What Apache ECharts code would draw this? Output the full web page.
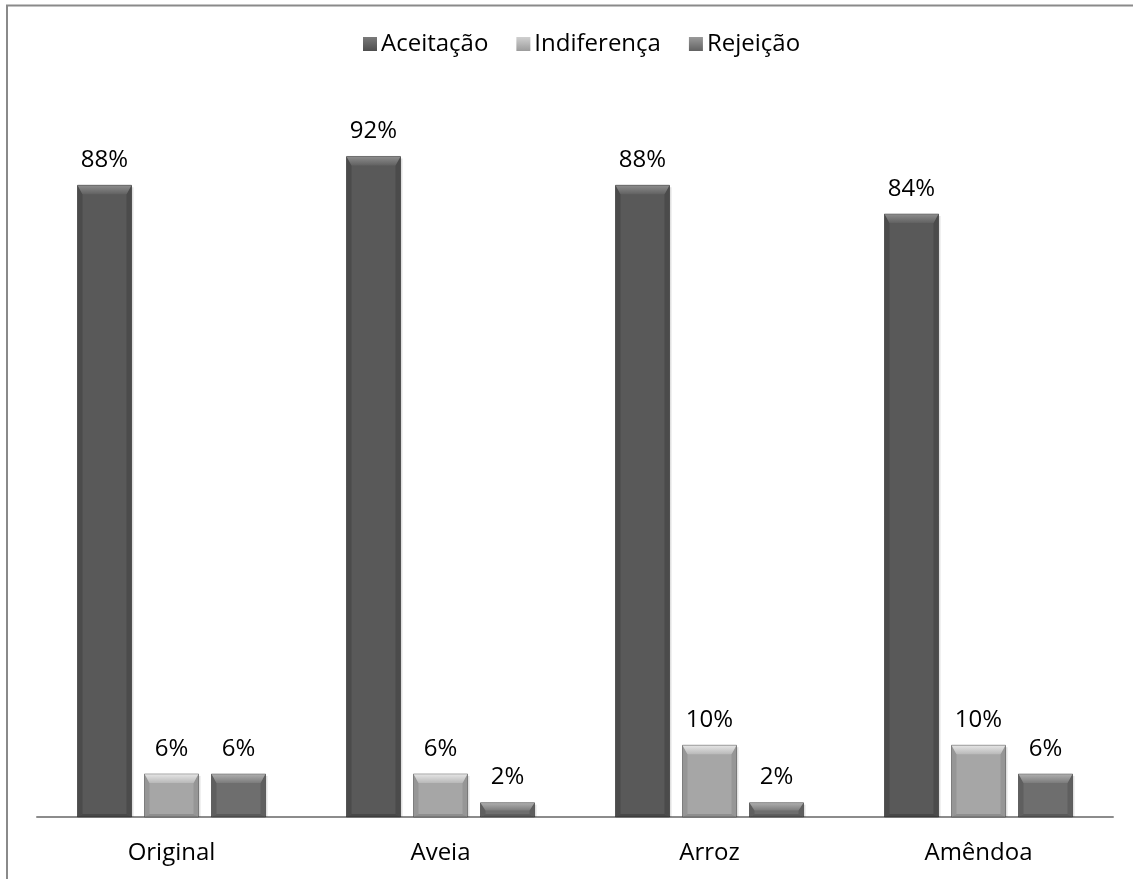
<!DOCTYPE html>
<html>
<head>
<meta charset="utf-8">
<script src="https://cdn.jsdelivr.net/npm/echarts@6/dist/echarts.min.js"></script>
<style>
  html, body { margin: 0; padding: 0; background: #fff; }
  #chart { width: 1133px; height: 879px; }
</style>
</head>
<body>
<div id="chart"></div>
<script>
// Aceitação das bebidas por variedade (%)
const categories = ['Original', 'Aveia', 'Arroz', 'Amêndoa'];
const seriesNames = ['Aceitação', 'Indiferença', 'Rejeição'];
const aceitacao = [88, 92, 88, 84];
const indiferenca = [6, 6, 10, 10];
const rejeicao = [6, 2, 2, 6];

const FONT = '"Open Sans", "Noto Sans", sans-serif';

// face / bevel shades for each series
const palettes = [
  { body: '#595959', top: ['#8e8e8e', '#626262'], side: '#4b4b4b', bottom: '#484848', legend: ['#7a7a7a', '#4e4e4e'] },
  { body: '#a6a6a6', top: ['#e6e6e6', '#b9b9b9'], side: '#969696', bottom: '#8e8e8e', legend: ['#d0d0d0', '#9c9c9c'] },
  { body: '#6e6e6e', top: ['#b0b0b0', '#7c7c7c'], side: '#5f5f5f', bottom: '#5a5a5a', legend: ['#9a9a9a', '#626262'] }
];

const BAR_W = 54;
const BAR_GAP = 13;

function bevelRenderer(seriesIndex) {
  const pal = palettes[seriesIndex];
  return function (params, api) {
    const idx = api.value(0);
    const val = api.value(1);
    const topPt = api.coord([idx, val]);
    const basePt = api.coord([idx, 0]);
    const groupW = 3 * BAR_W + 2 * BAR_GAP;
    const x0 = topPt[0] - groupW / 2 + seriesIndex * (BAR_W + BAR_GAP);
    const x1 = x0 + BAR_W;
    const yTop = topPt[1];
    const yBase = basePt[1];
    const h = yBase - yTop;
    const d = Math.min(9, h * 0.55);
    const s = 5;
    const b = Math.min(3, h * 0.2);
    return {
      type: 'group',
      children: [
        // soft shadow on the right
        { type: 'rect', shape: { x: x1, y: yTop + 2, width: 3, height: h - 2 },
          style: { fill: new echarts.graphic.LinearGradient(0, 0, 1, 0, [
            { offset: 0, color: 'rgba(0,0,0,0.18)' }, { offset: 1, color: 'rgba(0,0,0,0)' }]) } },
        { type: 'rect', shape: { x: x0, y: yTop, width: BAR_W, height: h },
          style: { fill: pal.body } },
        { type: 'polygon', shape: { points: [[x0, yTop], [x0 + s, yTop + d], [x0 + s, yBase - b], [x0, yBase]] },
          style: { fill: pal.side } },
        { type: 'polygon', shape: { points: [[x1, yTop], [x1 - s, yTop + d], [x1 - s, yBase - b], [x1, yBase]] },
          style: { fill: pal.side } },
        { type: 'polygon', shape: { points: [[x0, yBase], [x0 + s, yBase - b], [x1 - s, yBase - b], [x1, yBase]] },
          style: { fill: pal.bottom } },
        { type: 'polygon', shape: { points: [[x0, yTop], [x1, yTop], [x1 - s, yTop + d], [x0 + s, yTop + d]] },
          style: { fill: new echarts.graphic.LinearGradient(0, 0, 0, 1, [
            { offset: 0, color: pal.top[0] }, { offset: 1, color: pal.top[1] }]) } },
        { type: 'rect', shape: { x: x0, y: yTop, width: BAR_W, height: h },
          style: { fill: 'none', stroke: 'rgba(0,0,0,0.3)', lineWidth: 1 } },
        { type: 'text', x: (x0 + x1) / 2, y: yTop - 25,
          style: { text: val + '%', font: '24px ' + FONT, fill: '#000',
                   align: 'center', verticalAlign: 'middle' } }
      ]
    };
  };
}

const seriesData = [aceitacao, indiferenca, rejeicao];

const chart = echarts.init(document.getElementById('chart'));
chart.setOption({
  animation: false,
  backgroundColor: '#fff',
  grid: { left: 37, right: 20, top: 99, bottom: 62 },
  legend: {
    top: 27,
    left: 358,
    icon: 'rect',
    itemWidth: 14,
    itemHeight: 14,
    itemGap: 28,
    textStyle: { fontFamily: FONT, fontSize: 24, color: '#000', padding: [0, 0, 0, -1] },
    data: seriesNames
  },
  xAxis: {
    type: 'category',
    data: categories,
    axisLine: { lineStyle: { color: '#8c8c8c', width: 2 } },
    axisTick: { show: false },
    axisLabel: { fontFamily: FONT, fontSize: 24, color: '#000', margin: 24 },
    splitLine: { show: false }
  },
  yAxis: {
    type: 'value', min: 0, max: 100,
    show: false
  },
  graphic: [
    { type: 'line', silent: true, shape: { x1: 6, y1: 5.5, x2: 1133, y2: 5.5 },
      style: { stroke: '#8a8a8a', lineWidth: 2 } },
    { type: 'line', silent: true, shape: { x1: 7, y1: 5, x2: 7, y2: 879 },
      style: { stroke: '#8a8a8a', lineWidth: 2 } }
  ],
  series: seriesNames.map((name, i) => ({
    name: name,
    type: 'custom',
    renderItem: bevelRenderer(i),
    itemStyle: { color: new echarts.graphic.LinearGradient(0, 0, 0, 1, [
      { offset: 0, color: palettes[i].legend[0] }, { offset: 1, color: palettes[i].legend[1] }]) },
    encode: { x: 0, y: 1 },
    data: seriesData[i].map((v, k) => [k, v])
  }))
});
</script>
</body>
</html>
